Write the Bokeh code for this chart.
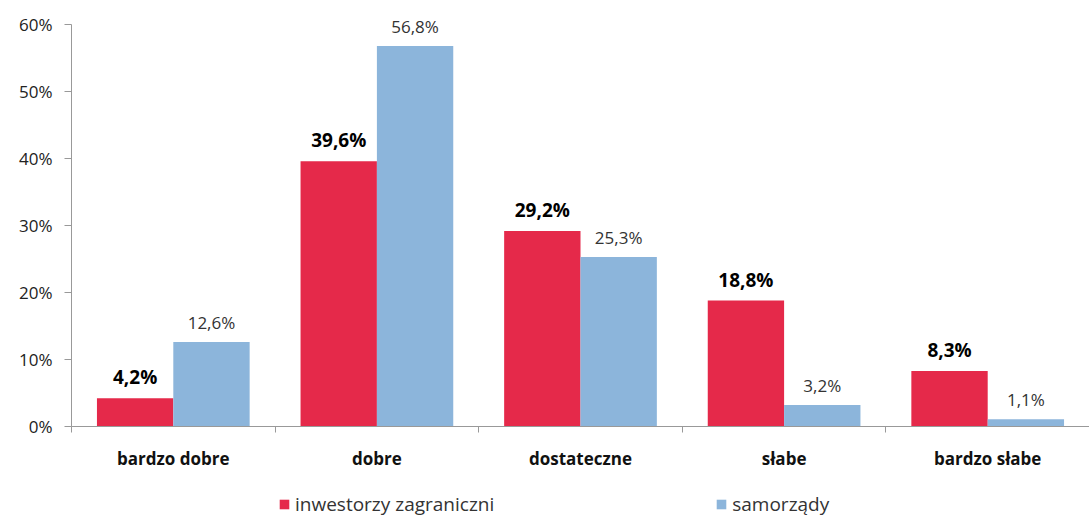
from bokeh.plotting import figure
from bokeh.layouts import column
from bokeh.models import (ColumnDataSource, Range1d, LinearAxis,
                          FixedTicker, PrintfTickFormatter, LabelSet, Legend, LegendItem)
from bokeh.core.properties import value
from bokeh.transform import dodge
from bokeh.embed import file_html
from bokeh.resources import INLINE

categories = ["bardzo dobre", "dobre", "dostateczne", "słabe", "bardzo słabe"]
inwestorzy = [4.2, 39.6, 29.2, 18.8, 8.3]
samorzady = [12.6, 56.8, 25.3, 3.2, 1.1]
series_names = ["inwestorzy zagraniczni", "samorządy"]
y_ticks = [0, 10, 20, 30, 40, 50, 60]

RED = "#E5294A"
BLUE = "#8CB5DB"
FONT = "Open Sans"
Y_TOP = 62.1  # headroom above the 60% axis end for the value labels

def fmt(v):
    return f"{v:.1f}".replace(".", ",") + "%"

n = len(categories)
centers = [i + 0.5 for i in range(n)]

src = ColumnDataSource(dict(
    xc=centers,
    inw=inwestorzy,
    sam=samorzady,
    inw_lbl=[fmt(v) for v in inwestorzy],
    sam_lbl=[fmt(v) for v in samorzady],
))

p = figure(width=1089, height=490, x_range=Range1d(0, n),
           y_range=Range1d(0, Y_TOP), output_backend="svg", toolbar_location=None,
           x_axis_location="below", y_axis_location="left")
p.min_border_left = 71
p.min_border_right = 0
p.min_border_top = 10
p.min_border_bottom = 64
p.outline_line_color = None
p.grid.visible = False

# y axis
ya = p.yaxis[0]
ya.ticker = FixedTicker(ticks=y_ticks)
ya.bounds = (y_ticks[0], y_ticks[-1])
ya.formatter = PrintfTickFormatter(format="%d%%")
ya.axis_line_color = "#999999"
ya.major_tick_line_color = "#999999"
ya.major_tick_in = 0
ya.major_tick_out = 7
ya.minor_tick_line_color = None
ya.major_label_text_font = FONT
ya.major_label_text_font_size = "17px"
ya.major_label_text_color = "#222222"
ya.major_label_standoff = 12

# boundary tick axis (category separators)
ba = p.xaxis[0]
ba.ticker = FixedTicker(ticks=list(range(n + 1)))
ba.major_label_overrides = {i: "" for i in range(n + 1)}
ba.axis_line_color = "#999999"
ba.major_tick_line_color = "#999999"
ba.major_tick_in = 0
ba.major_tick_out = 6
ba.minor_tick_line_color = None
ba.major_label_text_font_size = "2px"
ba.major_label_standoff = 0

# category labels
ca = LinearAxis(ticker=FixedTicker(ticks=centers),
                major_label_overrides={c: lab for c, lab in zip(centers, categories)})
ca.axis_line_color = None
ca.major_tick_line_color = None
ca.minor_tick_line_color = None
ca.major_label_text_font = FONT
ca.major_label_text_font_style = "bold"
ca.major_label_text_font_size = "17px"
ca.major_label_text_color = "#111111"
ca.major_label_standoff = 8
p.add_layout(ca, "below")

w = 0.375
p.vbar(x=dodge("xc", -w / 2), top="inw", width=w, source=src,
       fill_color=RED, line_color=None)
p.vbar(x=dodge("xc", w / 2), top="sam", width=w, source=src,
       fill_color=BLUE, line_color=None)

l1 = LabelSet(x=dodge("xc", -w / 2), y="inw", text="inw_lbl", source=src,
              text_align="center", y_offset=8, text_font=value(FONT), text_font_style="bold",
              text_font_size="19px", text_color="#000000")
l2 = LabelSet(x=dodge("xc", w / 2), y="sam", text="sam_lbl", source=src,
              text_align="center", y_offset=8, text_font=value(FONT),
              text_font_size="17px", text_color="#333333")
p.add_layout(l1)
p.add_layout(l2)

# legend strip below the chart (same series, drawn outside its visible range)
lf = figure(width=1089, height=27, x_range=Range1d(0, n), y_range=Range1d(1000, 1001),
            output_backend="svg", toolbar_location=None,
            x_axis_location=None, y_axis_location=None)
lf.min_border_left = 0
lf.min_border_right = 0
lf.min_border_top = 0
lf.min_border_bottom = 0
lf.outline_line_color = None
lf.grid.visible = False
g1 = lf.vbar(x=dodge("xc", -w / 2), top="inw", width=w, source=src, fill_color=RED, line_color=None)
g2 = lf.vbar(x=dodge("xc", w / 2), top="sam", width=w, source=src, fill_color=BLUE, line_color=None)

legend = Legend(items=[LegendItem(label=series_names[0], renderers=[g1]),
                       LegendItem(label=series_names[1], renderers=[g2])],
                orientation="horizontal", location=(207, 0))
legend.label_text_font = FONT
legend.label_text_font_size = "19px"
legend.label_text_color = "#333333"
legend.glyph_width = 12
legend.glyph_height = 12
legend.label_standoff = 5
legend.spacing = 221
legend.padding = 0
legend.margin = 0
legend.border_line_color = None
legend.background_fill_alpha = 0
lf.add_layout(legend)

page = column(p, lf, spacing=0)
open("out.html", "w").write(file_html(page, INLINE))
